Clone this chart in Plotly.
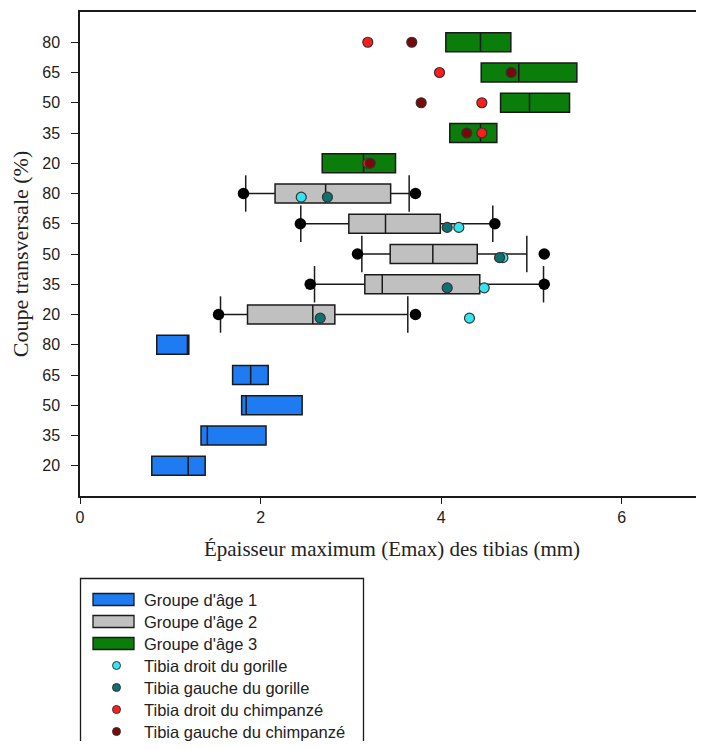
import plotly.graph_objects as go

# ---------------- data ----------------
sections = ["20", "35", "50", "65", "80"]          # coupe transversale (%)
groups = ["Groupe d'âge 1", "Groupe d'âge 2", "Groupe d'âge 3"]

g1_q1 = [0.795, 1.34, 1.79, 1.69, 0.85]
g1_med = [1.198, 1.41, 1.84, 1.89, 1.19]
g1_q3 = [1.386, 2.06, 2.46, 2.084, 1.205]

g2_q1 = [1.855, 3.154, 3.435, 2.977, 2.16]
g2_med = [2.578, 3.347, 3.907, 3.383, 2.72]
g2_q3 = [2.822, 4.427, 4.399, 3.99, 3.44]
g2_low = [1.556, 2.597, 3.121, 2.445, 1.835]
g2_high = [3.63, 5.133, 4.948, 4.571, 3.645]
g2_out_low = [1.534, 2.549, 3.073, 2.44, 1.81]
g2_out_high = [3.715, 5.141, 5.141, 4.594, 3.715]

g3_q1 = [2.682, 4.095, 4.657, 4.443, 4.051]
g3_med = [3.14, 4.435, 4.978, 4.859, 4.435]
g3_q3 = [3.494, 4.616, 5.421, 5.502, 4.771]

gorille_droit = [4.313, 4.476, 4.683, 4.195, 2.45]     # groupe 2 rows
gorille_gauche = [2.66, 4.066, 4.646, 4.066, 2.74]
chimp_droit = [3.187, 4.45, 4.45, 3.981, 3.187]        # groupe 3 rows
chimp_gauche = [3.214, 4.283, 3.778, 4.775, 3.674]

# ---------------- styles ----------------
C_BLUE = "#1E7BF2"
C_GRAY = "#C0C0C0"
C_GREEN = "#0A7D0A"
C_CYAN = "#36E3F0"
C_TEAL = "#0F7070"
C_RED = "#FF1C1C"
C_DRED = "#7A0808"
EDGE = "#1a1a1a"
AX = "Arial, 'Liberation Sans', sans-serif"
SERIF = "'Times New Roman', 'Liberation Serif', serif"

n = len(sections)
pos = [[gi * n + i + 1 for i in range(n)] for gi in range(3)]
GOR_OFF = -0.12

fig = go.Figure()

box_sets = [
    (g1_q1, g1_med, g1_q3, g1_q1, g1_q3, C_BLUE),
    (g2_q1, g2_med, g2_q3, g2_low, g2_high, C_GRAY),
    (g3_q1, g3_med, g3_q3, g3_q1, g3_q3, C_GREEN),
]
for gi, (q1, med, q3, lo, hi, col) in enumerate(box_sets):
    fig.add_trace(go.Box(
        y=pos[gi], q1=q1, median=med, q3=q3, lowerfence=lo, upperfence=hi,
        orientation="h", width=0.62, whiskerwidth=0, boxpoints=False,
        fillcolor=col, line=dict(color=EDGE, width=1.5), name=groups[gi],
        showlegend=False))

# whisker caps (group 2)
fig.add_trace(go.Scatter(
    x=g2_low + g2_high, y=pos[1] + pos[1], mode="markers",
    marker=dict(symbol="line-ns", size=26, line=dict(color=EDGE, width=1.5)),
    showlegend=False, hoverinfo="skip"))
# extreme points (group 2)
fig.add_trace(go.Scatter(
    x=g2_out_low + g2_out_high, y=pos[1] + pos[1], mode="markers",
    marker=dict(size=11.5, color="black"), showlegend=False))

# individual specimens
def pts(xs, ys, col, name, off=0.0):
    fig.add_trace(go.Scatter(
        x=xs, y=[y + off for y in ys], mode="markers", name=name,
        marker=dict(size=10, color=col, line=dict(color="#333333", width=1.2)),
        showlegend=False))

pts(gorille_droit, pos[1], C_CYAN, "Tibia droit du gorille", GOR_OFF)
pts(gorille_gauche, pos[1], C_TEAL, "Tibia gauche du gorille", GOR_OFF)
pts(chimp_droit, pos[2], C_RED, "Tibia droit du chimpanzé")
pts(chimp_gauche, pos[2], C_DRED, "Tibia gauche du chimpanzé")

# ---------------- layout ----------------
# the page body has an 8px margin, so the figure is sized/placed to compensate
OFF = 8
W, H = 704 - OFF, 749 - 2 * OFF
L, R, T, B = 80 - OFF, 0, 12 - OFF, H - (496 - OFF)
PW, PH = W - L - R, H - T - B

def px(X):   # page x pixel -> paper x
    return (X - OFF - L) / PW

def py(Y):   # page y pixel -> paper y
    return (H - B - (Y - OFF)) / PH

shapes = []
annotations = []
# legend frame
shapes.append(dict(type="rect", xref="paper", yref="paper",
                   x0=px(80.5), x1=px(363.5), y0=py(578.5), y1=py(800),
                   line=dict(color=EDGE, width=1.3), fillcolor="white", layer="above"))
legend_items = [
    ("rect", C_BLUE, groups[0]),
    ("rect", C_GRAY, groups[1]),
    ("rect", C_GREEN, groups[2]),
    ("dot", C_CYAN, "Tibia droit du gorille"),
    ("dot", C_TEAL, "Tibia gauche du gorille"),
    ("dot", C_RED, "Tibia droit du chimpanzé"),
    ("dot", C_DRED, "Tibia gauche du chimpanzé"),
]
for k, (kind, col, label) in enumerate(legend_items):
    yc = 599.5 + 22 * k
    if kind == "rect":
        shapes.append(dict(type="rect", xref="paper", yref="paper",
                           x0=px(93), x1=px(134), y0=py(yc + 6), y1=py(yc - 6),
                           fillcolor=col, line=dict(color=EDGE, width=1.3), layer="above"))
    else:
        shapes.append(dict(type="circle", xref="paper", yref="paper",
                           xsizemode="pixel", ysizemode="pixel",
                           xanchor=px(116.5), yanchor=py(yc),
                           x0=-4, x1=4, y0=-4, y1=4,
                           fillcolor=col, line=dict(color="#333333", width=1), layer="above"))
    annotations.append(dict(xref="paper", yref="paper", x=px(142), y=py(yc),
                            xanchor="left", yanchor="middle", showarrow=False,
                            text=label, font=dict(family=AX, size=16.5, color="#222222")))

fig.update_layout(
    width=W, height=H, margin=dict(l=L, r=R, t=T, b=B, pad=0),
    paper_bgcolor="white", plot_bgcolor="white",
    boxmode="overlay", showlegend=False,
    shapes=shapes, annotations=annotations,
    font=dict(family=AX, size=16, color="#222222"),
)
fig.update_xaxes(
    range=[0, 6.91], tickvals=[0, 2, 4, 6], ticktext=["0", "2", "4", "6"],
    showline=True, linecolor=EDGE, linewidth=1.5, mirror=True,
    ticks="outside", ticklen=6, tickwidth=1.3, tickcolor=EDGE,
    showgrid=False, zeroline=False,
    tickfont=dict(family=AX, size=16, color="#222222"),
    title=dict(text="Épaisseur maximum (Emax) des tibias (mm)", standoff=16,
               font=dict(family=SERIF, size=21, color="#222222")),
)
fig.update_yaxes(
    range=[0, 16], tickvals=[p for g in pos for p in g],
    ticktext=sections * 3,
    showline=True, linecolor=EDGE, linewidth=1.5, mirror=False,
    ticks="outside", ticklen=7, tickwidth=1.3, tickcolor=EDGE,
    ticklabelstandoff=8,
    showgrid=False, zeroline=False,
    tickfont=dict(family=AX, size=16, color="#222222"),
    title=dict(text="Coupe transversale (%)", standoff=9,
               font=dict(family=SERIF, size=22, color="#222222")),
)

fig.write_html("out.html")
